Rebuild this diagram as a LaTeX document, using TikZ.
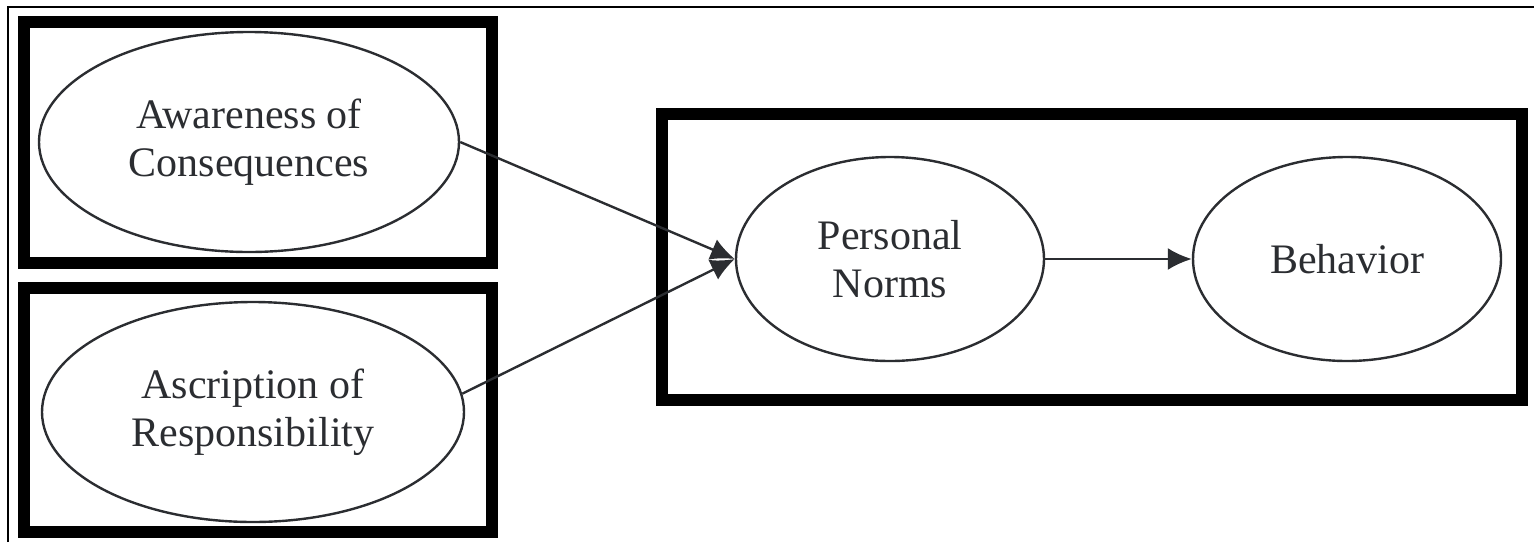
\documentclass[tikz,border=0pt]{standalone}
\usepackage{fontspec}
\setmainfont{Liberation Serif}
\usetikzlibrary{shapes.geometric,arrows.meta}
\definecolor{ink}{HTML}{2B2D31}
\begin{document}
\begin{tikzpicture}[x=1pt,y=-1pt,
  thinframe/.style={line width=2pt,black},
  heavybox/.style={line width=12pt,black},
  construct/.style={ellipse,draw=ink,line width=2.4pt,inner sep=0pt,align=center,
    text=ink,font=\fontsize{42}{48}\selectfont},
  link/.style={draw=ink,line width=2.4pt,-{Latex[length=24pt,width=22pt]}}]
\useasboundingbox (0,0) rectangle (1534,542);
% outer thin frame (cropped)
\draw[thinframe] (8,542) -- (8,6.5) -- (1534,6.5);
% heavy boxes
\draw[heavybox] (24,22) rectangle (492,263);
\draw[heavybox] (24,288) rectangle (492,532);
\draw[heavybox] (662,114) rectangle (1522,400);
% constructs
\node[construct,minimum width=420pt,minimum height=220pt] (ac) at (249,142) {Awareness of\\Consequences};
\node[construct,minimum width=422pt,minimum height=220pt] (ar) at (253,412) {Ascription of\\Responsibility};
\node[construct,minimum width=308pt,minimum height=204pt] (pn) at (890,259) {Personal\\Norms};
\node[construct,minimum width=308pt,minimum height=204pt] (bh) at (1347,259) {Behavior};
% connectors
\draw[link] (ac.east) -- (pn.west);
\draw[link] (ar.5) -- (pn.west);
\draw[link] (pn.east) -- (bh.west);
\end{tikzpicture}
\end{document}
